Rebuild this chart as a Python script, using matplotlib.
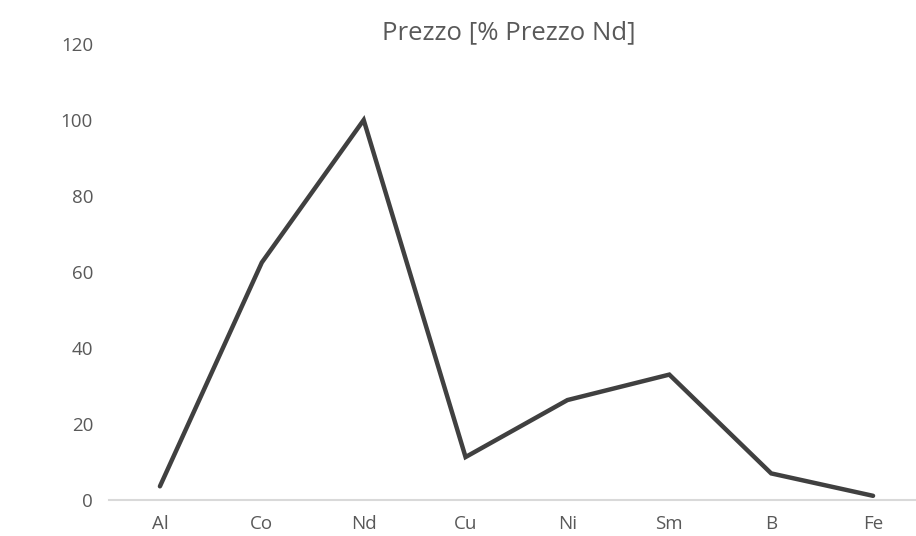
import matplotlib
matplotlib.use("Agg")
import matplotlib.pyplot as plt

categories = ["Al", "Co", "Nd", "Cu", "Ni", "Sm", "B", "Fe"]
prezzo = [3.6, 62.5, 100, 11.3, 26.3, 33.0, 7.0, 1.1]
y_ticks = [0, 20, 40, 60, 80, 100, 120]
title = "Prezzo [% Prezzo Nd]"

plt.rcParams["font.family"] = ["Open Sans", "DejaVu Sans"]
text_color = "#595959"

W, H = 916, 536
fig = plt.figure(figsize=(W / 100, H / 100), dpi=100)
ax = fig.add_axes([109 / W, 36 / H, (924 - 109) / W, 456 / H])

x = list(range(len(categories)))
ax.plot(x, prezzo, color="#404040", linewidth=3.2, solid_joinstyle="miter",
        solid_capstyle="round", clip_on=False)

ax.set_xlim(-0.5, len(categories) - 0.5)
ax.set_ylim(0, 120)
ax.set_xticks(x)
ax.set_xticklabels(categories)
ax.set_yticks(y_ticks)
ax.set_yticklabels([str(v) for v in y_ticks])

for side in ["top", "right", "left"]:
    ax.spines[side].set_visible(False)
ax.spines["bottom"].set_color("#d9d9d9")
ax.spines["bottom"].set_linewidth(1.5)

ax.tick_params(axis="both", length=0, colors=text_color, labelsize=13.5)
ax.tick_params(axis="y", pad=11.5)
ax.tick_params(axis="x", pad=11)

fig.text(509 / W, 1 - 33 / H, title, ha="center", va="center",
         fontsize=18.5, color=text_color)

fig.savefig("out.png", dpi=100, facecolor="white")
